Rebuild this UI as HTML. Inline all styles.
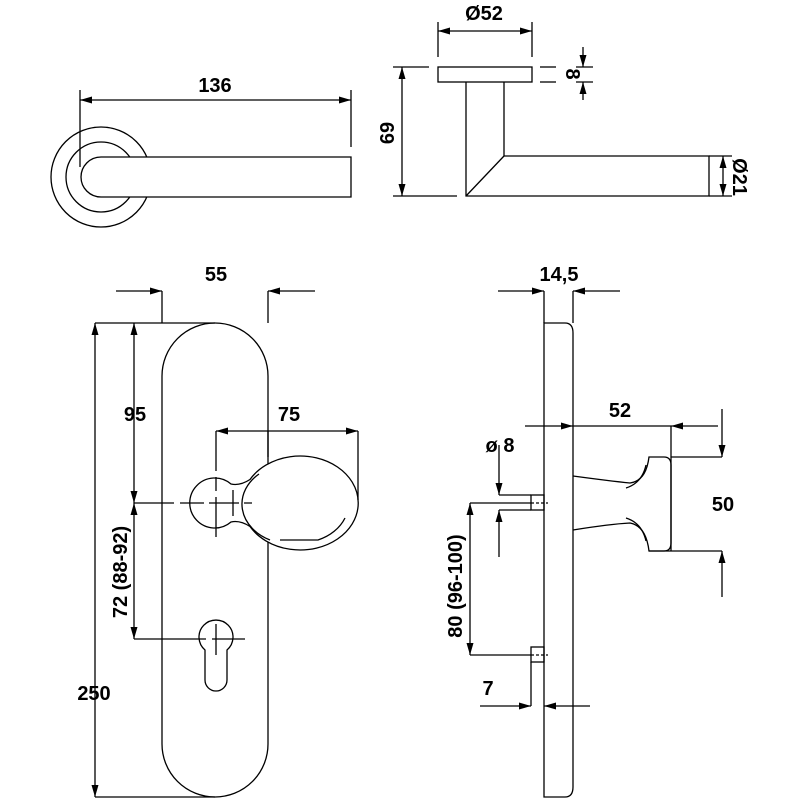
<!DOCTYPE html>
<html><head><meta charset="utf-8"><style>
html,body{margin:0;padding:0;background:#fff;}
svg{display:block;}
text{font-family:"Liberation Sans",Arial,sans-serif;font-weight:bold;font-size:20px;fill:#000;}
</style></head><body>
<svg width="800" height="800" viewBox="0 0 800 800" xmlns="http://www.w3.org/2000/svg">
<defs>
<marker id="a" markerUnits="userSpaceOnUse" markerWidth="13" markerHeight="8" refX="12" refY="3.5" orient="auto-start-reverse"><path d="M0,0 L12,3.5 L0,7 z" fill="#000"/></marker>
</defs>
<g fill="none" stroke="#000" stroke-width="1.3">
<!-- Top-left lever -->
<circle cx="101" cy="177" r="50"/>
<circle cx="101" cy="177" r="35"/>
<path d="M351,157 L101,157 A20,20 0 0 0 101,197 L351,197 Z" fill="#fff"/>
<line x1="80" y1="90" x2="80" y2="167"/>
<line x1="351" y1="90" x2="351" y2="147"/>
<line x1="80" y1="100" x2="351" y2="100" marker-start="url(#a)" marker-end="url(#a)"/>

<!-- Top-right lever side -->
<rect x="438" y="67" width="94" height="15" fill="#fff"/>
<path d="M466,82 L466,196 L709,196 L709,156 L504,156 L504,82"/>
<line x1="504" y1="156" x2="466" y2="196"/>
<line x1="438" y1="22" x2="438" y2="57"/>
<line x1="532" y1="22" x2="532" y2="57"/>
<line x1="438" y1="31" x2="532" y2="31" marker-start="url(#a)" marker-end="url(#a)"/>
<line x1="393" y1="67" x2="429" y2="67"/>
<line x1="393" y1="196" x2="457" y2="196"/>
<line x1="402" y1="67" x2="402" y2="196" marker-start="url(#a)" marker-end="url(#a)"/>
<line x1="540" y1="67" x2="556" y2="67"/><line x1="540" y1="82" x2="556" y2="82"/>
<line x1="576" y1="67" x2="593" y2="67"/><line x1="576" y1="82" x2="593" y2="82"/>
<line x1="583" y1="47" x2="583" y2="67" marker-end="url(#a)"/>
<line x1="583" y1="100" x2="583" y2="82" marker-end="url(#a)"/>
<line x1="709" y1="156" x2="732" y2="156"/>
<line x1="709" y1="196" x2="732" y2="196"/>
<line x1="723" y1="156" x2="723" y2="196" marker-start="url(#a)" marker-end="url(#a)"/>

<!-- Front plate -->
<rect x="162" y="323" width="106" height="474" rx="53" ry="53"/>
<line x1="162" y1="291" x2="162" y2="323"/>
<line x1="268" y1="291" x2="268" y2="323"/>
<line x1="116" y1="291" x2="162" y2="291" marker-end="url(#a)"/>
<line x1="315" y1="291" x2="268" y2="291" marker-end="url(#a)"/>
<line x1="95" y1="323" x2="215" y2="323"/>
<line x1="95" y1="797" x2="215" y2="797"/>
<line x1="95" y1="323" x2="95" y2="797" marker-start="url(#a)" marker-end="url(#a)"/>
<line x1="134" y1="323" x2="134" y2="503" marker-start="url(#a)" marker-end="url(#a)"/>
<line x1="134" y1="503" x2="134" y2="639" marker-start="url(#a)" marker-end="url(#a)"/>
<line x1="134" y1="503" x2="190" y2="503" stroke-dasharray="40,6,12,6"/>
<!-- keyhole -->
<path d="M205,650 A17,17 0 1 1 227,650 L227,680 A11,11 0 0 1 205,680 Z" fill="#fff"/>
<line x1="216" y1="624" x2="216" y2="655"/>
<line x1="134" y1="639" x2="245" y2="639" stroke-dasharray="72,6,40,4"/>
<!-- knob -->
<path d="M231,484 Q240,486 250,479.5 A58,47 0 1 1 250,526.5 Q240,520 231,522 A25,25 0 1 1 231,484 Z" fill="#fff"/>
<path d="M259,474 A50,40 0 0 0 270,540"/>
<path d="M280,540 L318,540 A48,40 0 0 0 345,518"/>
<line x1="233" y1="490" x2="233" y2="516"/>
<line x1="216" y1="431" x2="216" y2="540" stroke-dasharray="40,6,14,6"/>
<line x1="190" y1="503" x2="252" y2="503" stroke-dasharray="14,5,30,5"/>
<line x1="268" y1="431" x2="268" y2="457"/>
<line x1="358" y1="431" x2="358" y2="500"/>
<line x1="216" y1="431" x2="358" y2="431" marker-start="url(#a)" marker-end="url(#a)"/>

<!-- Side plate -->
<path d="M544,323 L565,323 Q573,323 573,333 L573,787 Q573,797 565,797 L544,797 Z"/>
<line x1="544" y1="291" x2="544" y2="323"/>
<line x1="573" y1="291" x2="573" y2="323"/>
<line x1="498" y1="291" x2="544" y2="291" marker-end="url(#a)"/>
<line x1="620" y1="291" x2="573" y2="291" marker-end="url(#a)"/>
<!-- knob side -->
<path d="M573,476 Q610,481 630,483 Q646,481 649,457 L664,457 Q671,457 671,465 L671,543 Q671,551 664,551 L649,551 Q646,526 630,523 Q610,524 573,530"/>
<path d="M626,488 Q642,483 646,465"/>
<path d="M626,518 Q642,523 646,541"/>
<line x1="525" y1="426" x2="573" y2="426" marker-end="url(#a)"/>
<line x1="718" y1="426" x2="671" y2="426" marker-end="url(#a)"/>
<line x1="573" y1="426" x2="671" y2="426"/>
<line x1="671" y1="426" x2="671" y2="551"/>
<line x1="671" y1="457" x2="722" y2="457"/>
<line x1="649" y1="551" x2="722" y2="551"/>
<line x1="722" y1="409" x2="722" y2="457" marker-end="url(#a)"/>
<line x1="722" y1="597" x2="722" y2="551" marker-end="url(#a)"/>
<!-- pins -->
<rect x="531" y="495" width="13" height="15"/>
<rect x="531" y="647" width="13" height="15"/>
<line x1="531" y1="503" x2="548" y2="503" stroke-dasharray="3,2"/>
<line x1="531" y1="655" x2="548" y2="655" stroke-dasharray="3,2"/>
<line x1="499" y1="495" x2="531" y2="495"/>
<line x1="499" y1="510" x2="531" y2="510"/>
<line x1="499" y1="445" x2="499" y2="495" marker-end="url(#a)"/>
<line x1="499" y1="557" x2="499" y2="510" marker-end="url(#a)"/>
<line x1="470" y1="503" x2="531" y2="503"/>
<line x1="470" y1="655" x2="531" y2="655"/>
<line x1="470" y1="503" x2="470" y2="655" marker-start="url(#a)" marker-end="url(#a)"/>
<line x1="531" y1="662" x2="531" y2="706"/>
<line x1="480" y1="706" x2="531" y2="706" marker-end="url(#a)"/>
<line x1="590" y1="706" x2="544" y2="706" marker-end="url(#a)"/>
</g>
<g text-anchor="middle">
<text x="215" y="92">136</text>
<text x="484" y="20">Ø52</text>
<text transform="translate(394,133) rotate(-90)">69</text>
<text transform="translate(566,74) rotate(90)">8</text>
<text transform="translate(733,177) rotate(90)">Ø21</text>
<text x="216" y="281">55</text>
<text x="559" y="281">14,5</text>
<text x="135" y="421">95</text>
<text x="289" y="421">75</text>
<text transform="translate(127,572) rotate(-90)">72 (88-92)</text>
<text x="94" y="700">250</text>
<text x="620" y="417">52</text>
<text x="500" y="452">ø 8</text>
<text x="723" y="511">50</text>
<text transform="translate(462,586) rotate(-90)">80 (96-100)</text>
<text x="488" y="695">7</text>
</g>
</svg>
</body></html>
